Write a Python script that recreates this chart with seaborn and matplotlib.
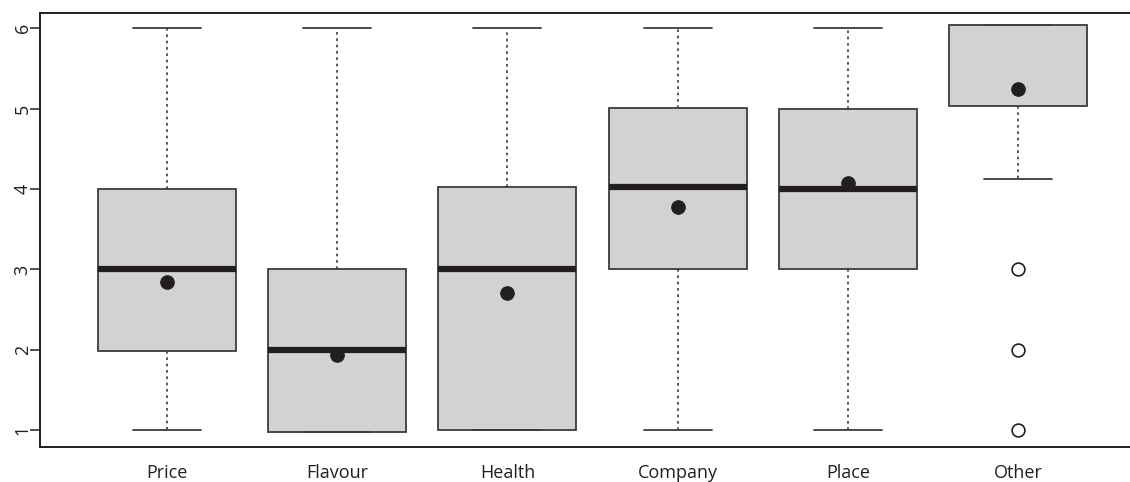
import matplotlib
matplotlib.use("Agg")
import matplotlib.pyplot as plt
import seaborn as sns
import numpy as np
import pandas as pd

categories = ["Price", "Flavour", "Health", "Company", "Place", "Other"]
whislo = [1.0, 0.98, 1.0, 1.0, 1.0, 4.12]
q1 = [1.98, 0.98, 1.0, 3.0, 3.0, 5.03]
med = [3.0, 2.0, 3.01, 4.02, 4.0, 6.04]
q3 = [4.0, 3.0, 4.03, 5.01, 5.0, 6.04]
whishi = [6.0, 6.0, 6.0, 6.0, 6.0, 6.04]
means = [2.84, 1.93, 2.70, 3.77, 4.07, 5.25]
outlier_cat = ["Other", "Other", "Other"]
outlier_val = [3.0, 2.0, 1.0]
yticks = [1, 2, 3, 4, 5, 6]

sns.set_style("ticks")
plt.rcParams['font.family'] = ['Open Sans', 'DejaVu Sans']

DARK = "#231f20"
EDGE = "#3c3c3c"
FILL = "#d1d2d4"

fig = plt.figure(figsize=(11.3, 4.82), dpi=100)
ax = fig.add_axes([40 / 1130, 1 - 447 / 482, 1 - 40 / 1130, (447 - 13) / 482])

stats = []
for i, c in enumerate(categories):
    stats.append(dict(label=c, whislo=whislo[i], q1=q1[i], med=med[i],
                      q3=q3[i], whishi=whishi[i], fliers=[]))

pos = np.arange(len(categories))
bp = ax.bxp(stats, positions=pos, widths=0.81, capwidths=0.4, patch_artist=True,
            showfliers=False,
            boxprops=dict(facecolor=FILL, edgecolor=EDGE, linewidth=1.3),
            whiskerprops=dict(color=EDGE, linewidth=1.2, linestyle=(0, (1.6, 2.2))),
            capprops=dict(color=EDGE, linewidth=1.3),
            medianprops=dict(color=DARK, linewidth=4.5, solid_capstyle="butt"))
# the "Other" median coincides with the top of the box (drawn thin in reference)
bp["medians"][-1].set_visible(False)

mean_df = pd.DataFrame({"x": pos, "mean": means})
sns.scatterplot(data=mean_df, x="x", y="mean", ax=ax, s=95, color=DARK,
                edgecolor=DARK, zorder=5, legend=False)

out_df = pd.DataFrame({"x": [categories.index(c) for c in outlier_cat], "v": outlier_val})
sns.scatterplot(data=out_df, x="x", y="v", ax=ax, s=85, facecolor="white",
                edgecolor=DARK, linewidth=1.2, zorder=5, legend=False)

ax.set_xlim(-0.746, 5.658)
ax.set_ylim(0.79, 6.19)
ax.set_xticks(pos)
ax.set_xticklabels(categories, fontsize=13, color=DARK)
ax.set_yticks(yticks)
ax.set_yticklabels([str(t) for t in yticks], rotation=90, va="center",
                   fontsize=13, color=DARK)
ax.tick_params(axis="x", length=0, pad=12)
ax.tick_params(axis="y", length=7, width=1.1, color=DARK, pad=-1)
ax.set_xlabel("")
ax.set_ylabel("")
for s in ["left", "top", "bottom"]:
    ax.spines[s].set_color(DARK)
    ax.spines[s].set_linewidth(1.4)
ax.spines["right"].set_visible(False)

fig.savefig("out.png", dpi=100)
